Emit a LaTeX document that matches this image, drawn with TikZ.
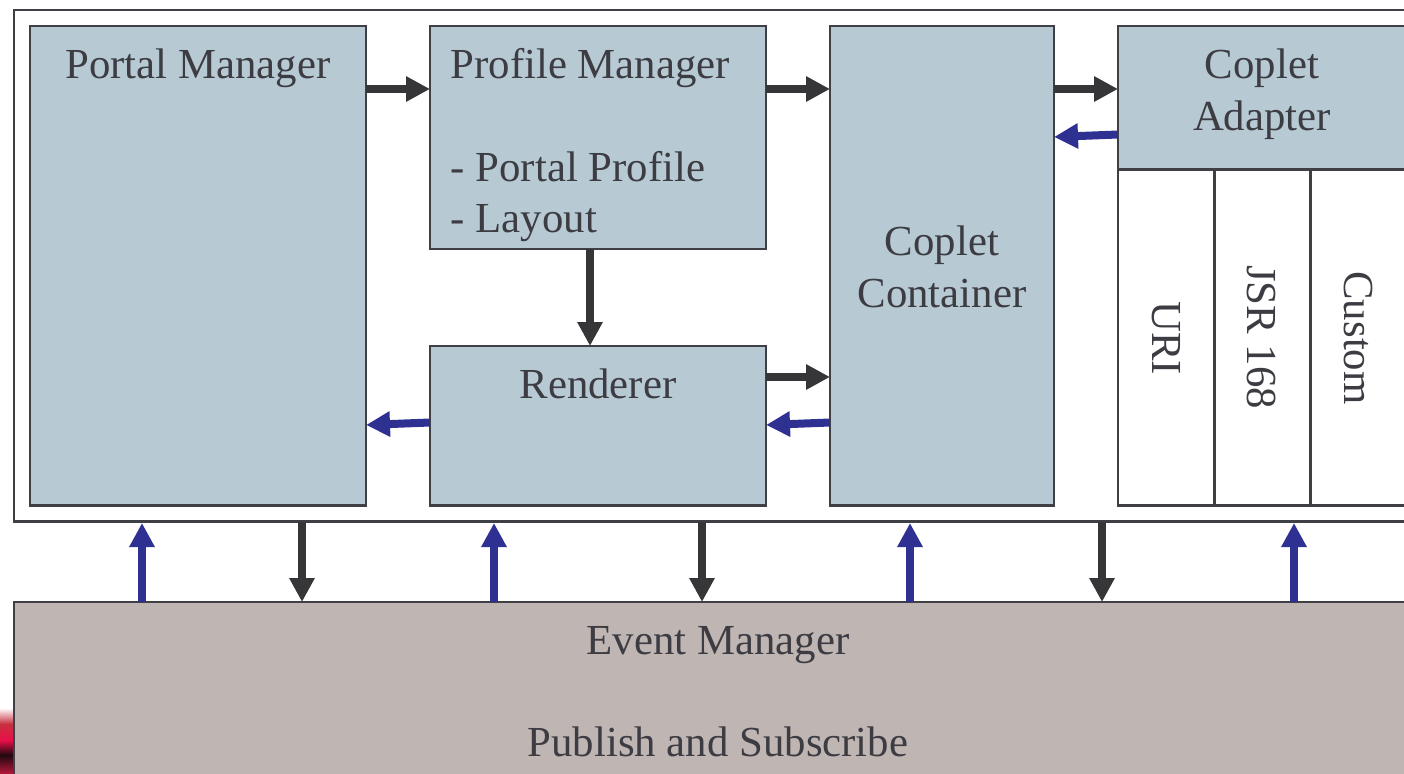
\documentclass[tikz,border=0pt]{standalone}
\usepackage{fontspec}
\setmainfont{Liberation Serif}
\usetikzlibrary{arrows.meta}
\definecolor{edgec}{HTML}{3F3F46}
\definecolor{dk}{HTML}{363639}
\definecolor{bl}{HTML}{2E3192}
\definecolor{boxc}{HTML}{B7CAD4}
\definecolor{evc}{HTML}{BFB5B3}
\definecolor{txtc}{HTML}{3C3C42}
\definecolor{ph2}{HTML}{C83040}
\definecolor{ph3}{HTML}{E81048}
\definecolor{ph4}{HTML}{200810}
\definecolor{ph5}{HTML}{B01838}
\tikzset{
 box/.style={draw=edgec,line width=2.7pt,fill=boxc,inner sep=0pt,outer sep=0pt,anchor=north west},
 plain/.style={box,fill=white},
 lab/.style={text=txtc,font=\fontsize{42.8}{52}\selectfont,inner sep=0pt,align=center},
 dkarrow/.style={draw=dk,line width=8pt,-{Triangle[length=24pt,width=24pt]}},
 blarrow/.style={draw=bl,line width=8pt,-{Triangle[length=24pt,width=24pt]}}
}
\begin{document}
\begin{tikzpicture}[x=1pt,y=-1pt]
\useasboundingbox (0,0) rectangle (1404,773);
\clip (0,0) rectangle (1404,773);
\fill[white] (0,0) rectangle (1404,773);
% photo fragment
\fill[top color=white,bottom color=ph2] (0,708) rectangle (13,724);
\fill[top color=ph2,bottom color=ph3] (0,724) rectangle (13,740);
\fill[top color=ph3,bottom color=ph4] (0,740) rectangle (13,755);
\fill[top color=ph4,bottom color=ph5] (0,755) rectangle (13,773);
% outer frames
\node[plain,minimum width=1420pt,minimum height=511.5pt] (outer) at (14,10) {};
\node[box,fill=evc,minimum width=1420pt,minimum height=200pt] (event) at (14,602) {};
% boxes
\node[box,minimum width=336pt,minimum height=479.5pt] (portal) at (30,26) {};
\node[box,minimum width=336pt,minimum height=223pt] (profile) at (430,26) {};
\node[box,minimum width=336pt,minimum height=159.5pt] (renderer) at (430,346) {};
\node[box,minimum width=224pt,minimum height=479.5pt] (container) at (830,26) {};
\node[box,minimum width=320pt,minimum height=143pt] (adapter) at (1118,26) {};
\node[plain,minimum width=96pt,minimum height=335.5pt] (uri) at (1118,170) {};
\node[plain,minimum width=96pt,minimum height=335.5pt] (jsr) at (1214.5,170) {};
\node[plain,minimum width=120pt,minimum height=335.5pt] (custom) at (1310.5,170) {};
% labels
\node[lab,anchor=base] (lportal) at (198,79) {Portal Manager};
\node[lab,anchor=base west] (lprof) at (450.5,79) {Profile Manager};
\node[lab,anchor=base west] (lpp) at (450.5,181) {- Portal Profile};
\node[lab,anchor=base west] (llay) at (450.5,232) {- Layout};
\node[lab,anchor=base] (lrend) at (598,398) {Renderer};
\node[lab,anchor=base] (lcoplet) at (942,255.5) {Coplet};
\node[lab,anchor=base] (lcont) at (942,307) {Container};
\node[lab,anchor=base] (ladapt1) at (1262,79) {Coplet};
\node[lab,anchor=base] (ladapt2) at (1262,130) {Adapter};
\node[lab,rotate=-90] (luri) at (1166,338) {URI};
\node[lab,rotate=-90] (ljsr) at (1262,337) {JSR 168};
\node[lab,rotate=-90] (lcus) at (1358,338) {Custom};
\node[lab,anchor=base] (lev) at (718,654) {Event Manager};
\node[lab,anchor=base] (lpub) at (718,756) {Publish and Subscribe};
% horizontal dark
\draw[dkarrow] (portal.east |- 0,89) -- (profile.west |- 0,89);
\draw[dkarrow] (profile.east |- 0,89) -- (container.west |- 0,89);
\draw[dkarrow] (container.east |- 0,89) -- (adapter.west |- 0,89);
\draw[dkarrow] (renderer.east |- 0,377) -- (container.west |- 0,377);
\draw[dkarrow] (profile.south -| 590,0) -- (renderer.north -| 590,0);
% horizontal blue
\draw[blarrow] (adapter.west |- 0,134.5) -- (container.east |- 0,137);
\draw[blarrow] (container.west |- 0,422.5) -- (renderer.east |- 0,425);
\draw[blarrow] (renderer.west |- 0,422.5) -- (portal.east |- 0,425);
% vertical
\foreach \x in {142,494,910,1294}
  \draw[blarrow] (event.north -| \x,0) -- (\x,523);
\foreach \x in {302,702,1102}
  \draw[dkarrow] (outer.south -| \x,0) -- (event.north -| \x,0);
\end{tikzpicture}
\end{document}
